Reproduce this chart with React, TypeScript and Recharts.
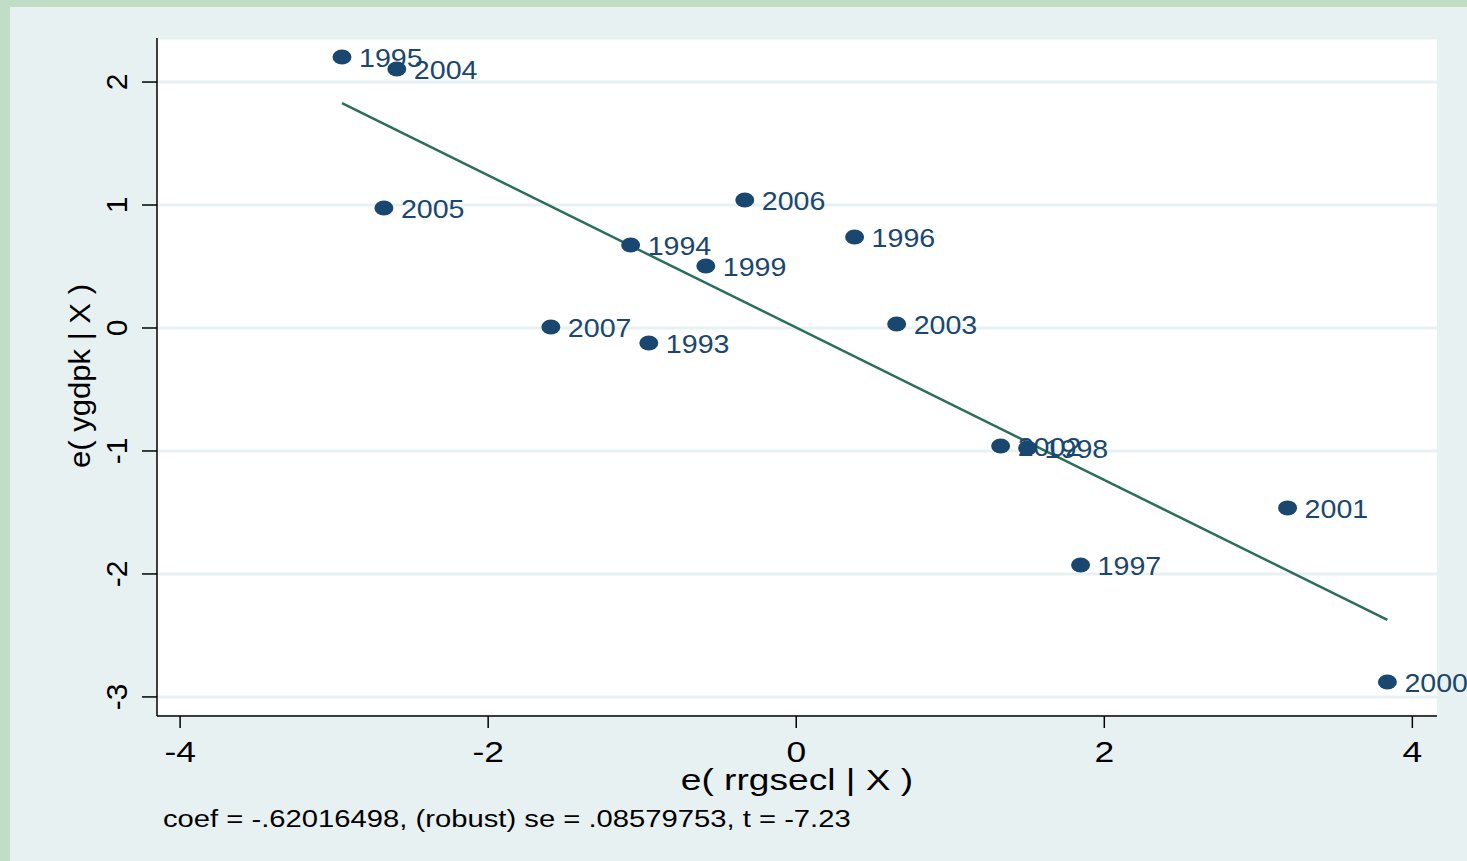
import { ScatterChart, Scatter, XAxis, YAxis, CartesianGrid } from "recharts";

// Added-variable plot: residual ygdpk vs residual rrgsecl, with labelled years
const years = ["1995", "2004", "2005", "1994", "2006", "1999", "1996", "2007", "1993", "2003", "2002", "1998", "2001", "1997", "2000"];
const resX = [-2.949, -2.593, -2.677, -1.075, -0.334, -0.587, 0.379, -1.593, -0.957, 0.652, 1.327, 1.502, 3.19, 1.846, 3.838];
const resY = [2.203, 2.106, 0.976, 0.675, 1.041, 0.504, 0.74, 0.008, -0.122, 0.033, -0.959, -0.976, -1.463, -1.927, -2.878];

// fitted line end points
const fitX = [-2.949, 3.838];
const fitY = [1.829, -2.374];

const xTicks = [-4, -2, 0, 2, 4];
const yTicks = [-3, -2, -1, 0, 1, 2];

const points = years.map((yr, i) => ({ x: resX[i], y: resY[i], year: yr }));
const fit = fitX.map((x, i) => ({ x, y: fitY[i] }));

const NAVY = "#1a476f";
const LINE = "#2b6e5c";
const BG = "#e8f1f2";
const FONT = "'Liberation Sans', Arial, sans-serif";

const Marker = (props: any) => {
  const { cx, cy, payload } = props;
  if (cx == null || cy == null) return <g />;
  return (
    <g>
      <ellipse cx={cx} cy={cy} rx={9.5} ry={7.5} fill={NAVY} />
      <text
        transform={`translate(${cx + 17} ${cy + 1}) scale(1.1 1)`}
        fill={NAVY}
        fontSize={26}
        fontFamily={FONT}
        dominantBaseline="central"
      >
        {payload.year}
      </text>
    </g>
  );
};

const YTick = (props: any) => {
  const { y, payload } = props;
  return (
    <text
      x={117}
      y={y}
      transform={`rotate(-90 117 ${y})`}
      textAnchor="middle"
      dominantBaseline="central"
      fontSize={30}
      fontFamily={FONT}
      fill="#000"
    >
      {payload.value}
    </text>
  );
};

const XTick = (props: any) => {
  const { x, payload } = props;
  return (
    <text
      transform={`translate(${x} 751) scale(1.18 1)`}
      textAnchor="middle"
      dominantBaseline="central"
      fontSize={30}
      fontFamily={FONT}
      fill="#000"
    >
      {payload.value}
    </text>
  );
};

export default function App() {
  return (
    <div style={{ position: "absolute", left: 0, top: 0, width: 1467, height: 861, background: BG, fontFamily: FONT }}>
      <div style={{ position: "absolute", left: 0, top: 0, width: 1467, height: 7, background: "#c2ddc5" }} />
      <div style={{ position: "absolute", left: 0, top: 0, width: 10, height: 861, background: "#c2ddc5" }} />
      <ScatterChart width={1467} height={861} margin={{ top: 38, right: 30, left: 97, bottom: 85 }} style={{ position: "absolute", left: 0, top: 0 }}>
        <CartesianGrid vertical={false} horizontal stroke={BG} strokeWidth={3} fill="#ffffff" />
        <XAxis
          type="number"
          dataKey="x"
          domain={[-4.15, 4.16]}
          ticks={xTicks}
          height={60}
          tickSize={12}
          axisLine={{ stroke: "#000", strokeWidth: 1.5 }}
          tickLine={{ stroke: "#000", strokeWidth: 1.5 }}
          tick={<XTick />}
        />
        <YAxis
          type="number"
          dataKey="y"
          domain={[-3.155, 2.358]}
          ticks={yTicks}
          width={60}
          tickSize={15}
          axisLine={{ stroke: "#000", strokeWidth: 1.5 }}
          tickLine={{ stroke: "#000", strokeWidth: 1.5 }}
          tick={<YTick />}
        />
        <Scatter data={fit} line={{ stroke: LINE, strokeWidth: 2.5 }} shape={() => <g />} isAnimationActive={false} />
        <Scatter data={points} shape={<Marker />} isAnimationActive={false} />
      </ScatterChart>
      <div style={{ position: "absolute", left: 80, top: 376, width: 0, height: 0 }}>
        <div
          style={{
            position: "absolute",
            left: 0,
            top: 0,
            transform: "translate(-50%, -50%) rotate(-90deg) scale(1.07, 1)",
            whiteSpace: "nowrap",
            fontSize: 29,
            color: "#000",
            lineHeight: "30px",
          }}
        >
          e( ygdpk | X )
        </div>
      </div>
      <div
        style={{
          position: "absolute",
          left: 597,
          width: 400,
          top: 763,
          textAlign: "center",
          fontSize: 29,
          lineHeight: "34px",
          color: "#000",
          transform: "scaleX(1.28)",
          transformOrigin: "center",
        }}
      >
        e( rrgsecl | X )
      </div>
      <div
        style={{
          position: "absolute",
          left: 163,
          top: 804,
          fontSize: 23,
          lineHeight: "30px",
          color: "#000",
          whiteSpace: "nowrap",
          transform: "scaleX(1.27)",
          transformOrigin: "left",
        }}
      >
        coef = -.62016498, (robust) se = .08579753, t = -7.23
      </div>
    </div>
  );
}
